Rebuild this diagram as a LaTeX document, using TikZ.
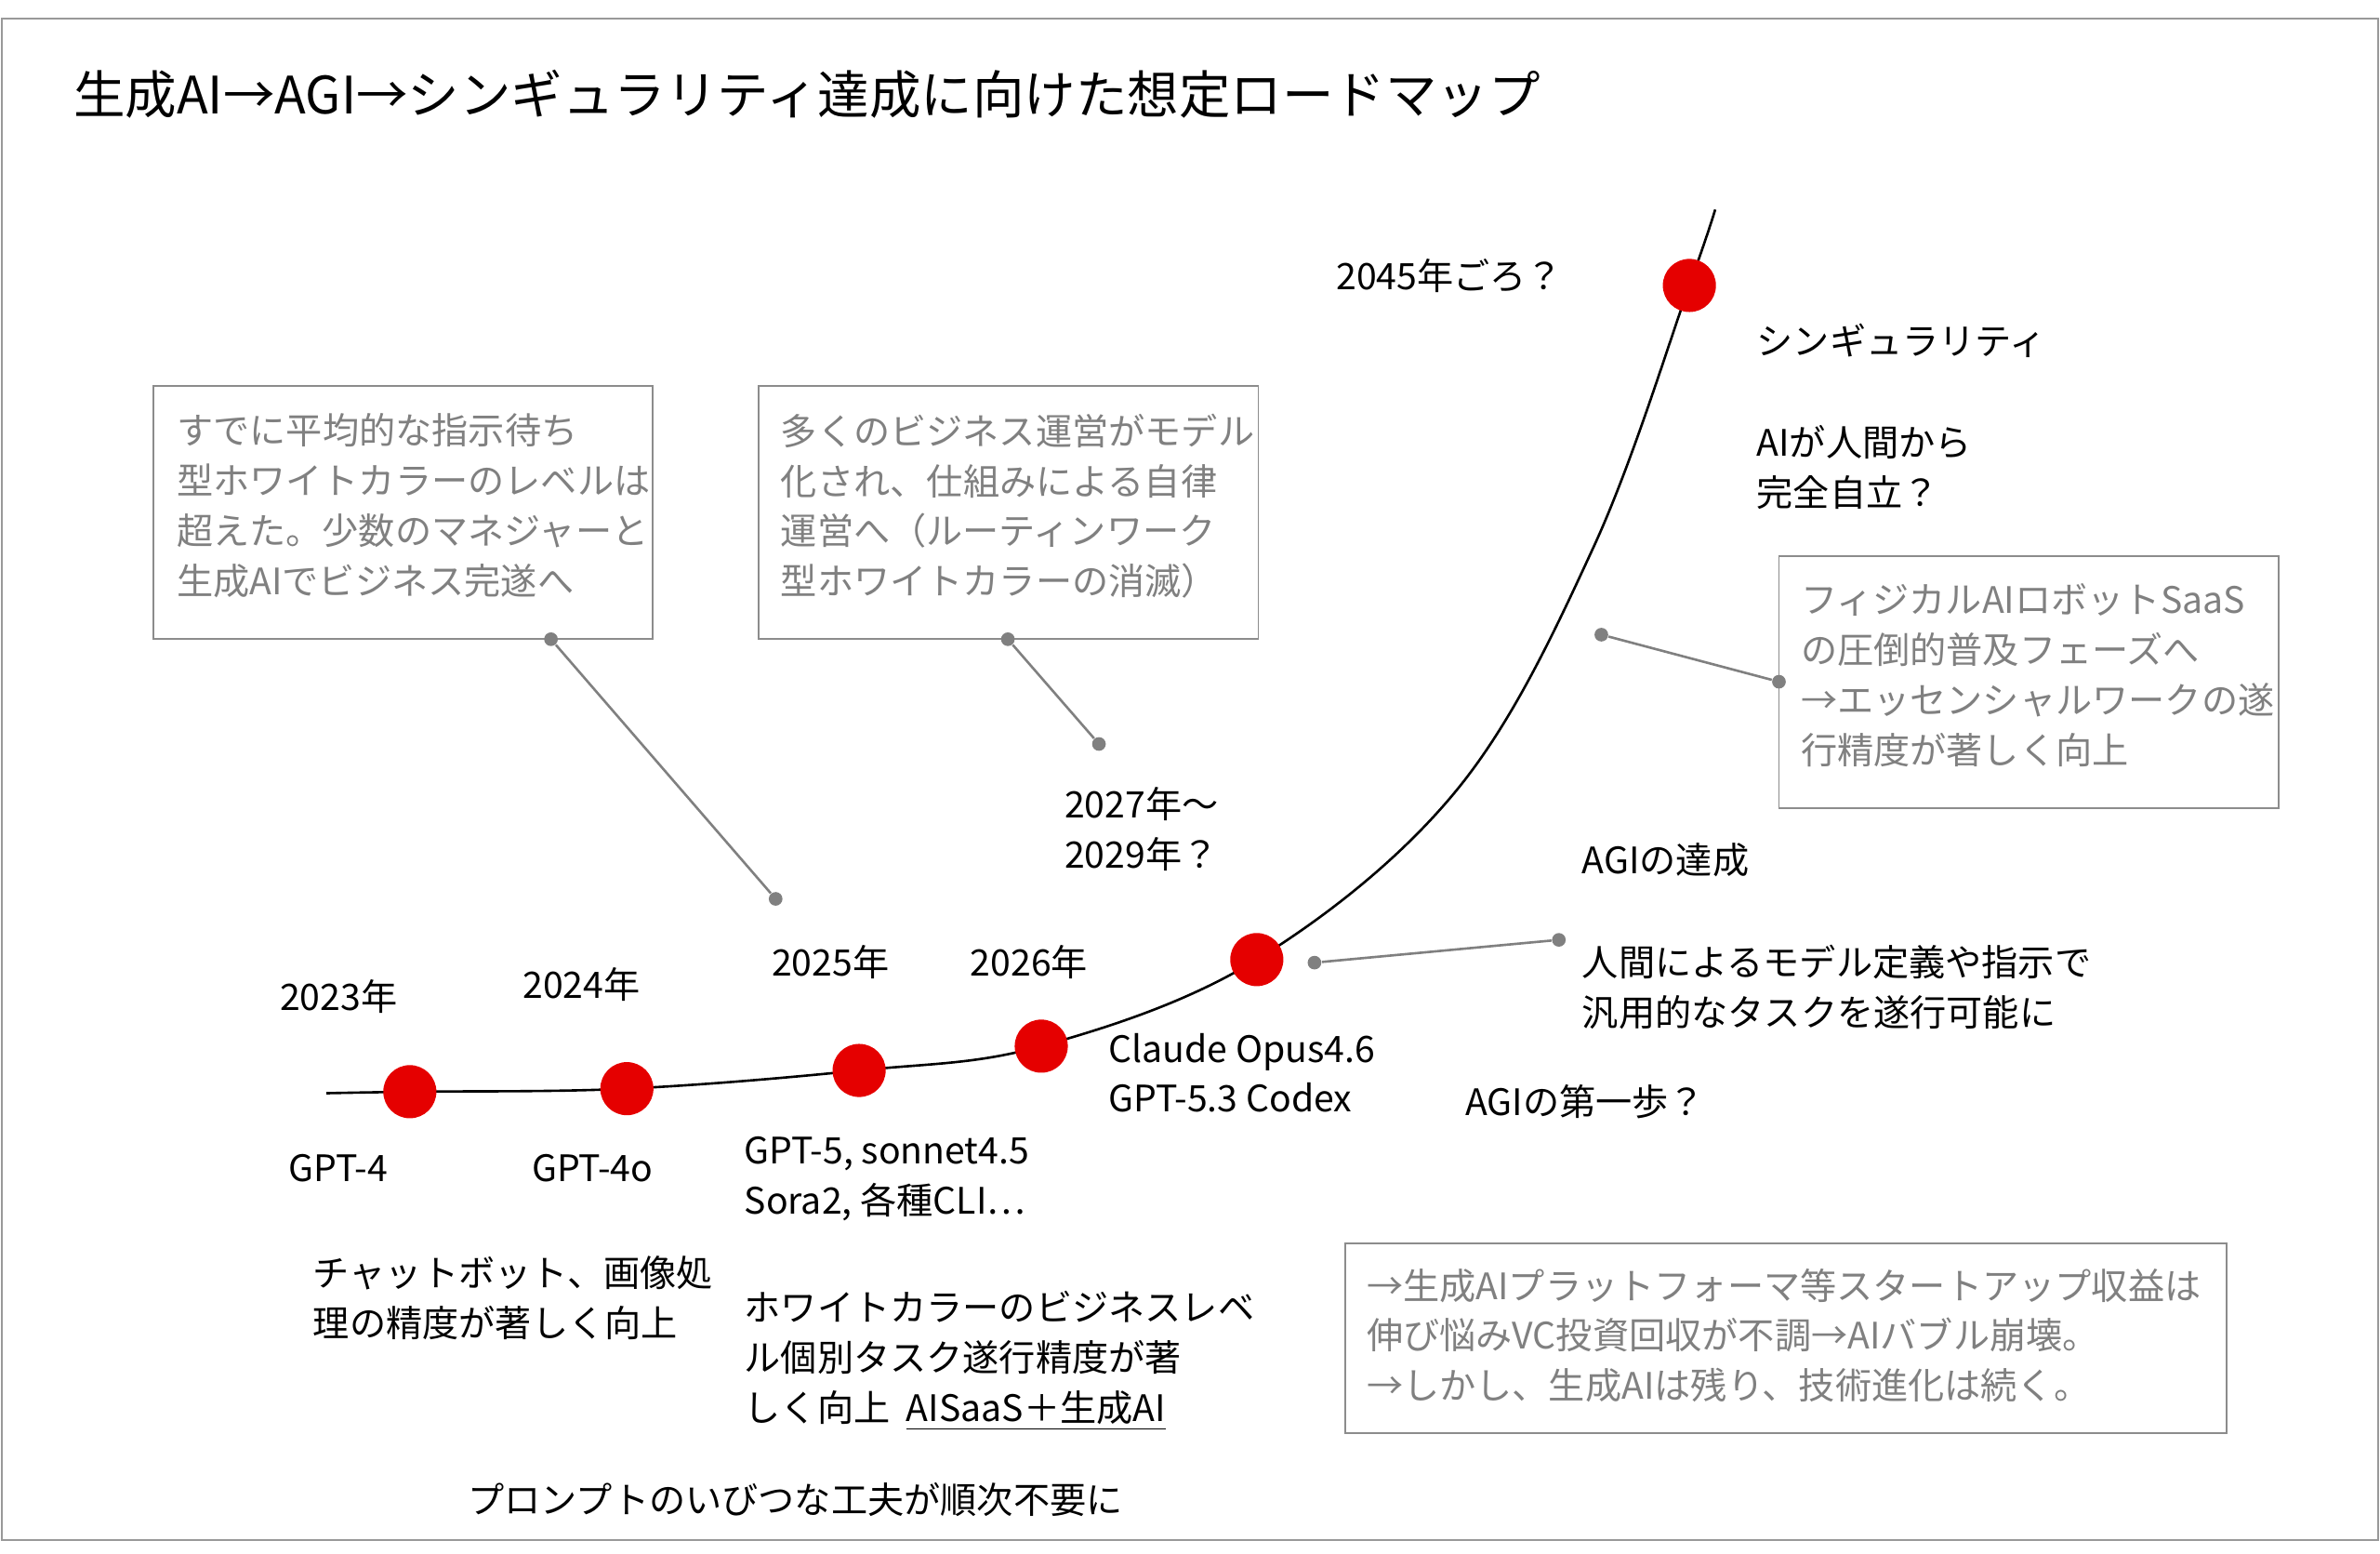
\documentclass[tikz,border=0pt]{standalone}
\usepackage{fontspec}
\setmainfont{Noto Sans CJK JP}
\begin{document}
\begin{tikzpicture}[x=0.5pt,y=-0.5pt,
  txt/.style={anchor=north west,inner sep=0pt,align=left,font=\fontsize{12}{16.5}\selectfont},
  gtxt/.style={txt,text=black!50},
  gbox/.style={draw=black!45,line width=0.6pt},
  dot/.style={circle,fill=red!90!black,minimum size=17.5pt,inner sep=0pt},
  gdot/.style={circle,fill=black!50,minimum size=4.5pt,inner sep=0pt},
  conn/.style={draw=black!50,line width=0.8pt}]
\useasboundingbox (0,0) rectangle (1568,1023);
\draw[black!40,line width=0.6pt] (1,12) rectangle (1567,1014);
\node[anchor=west,inner sep=0pt,font=\fontsize{17}{20}\selectfont] (title) at (48,62) {生成AI→AGI→シンギュラリティ達成に向けた想定ロードマップ};
% curve
\draw[line width=0.8pt] plot[smooth,tension=0.6] coordinates {(215,720) (270,719) (413,717) (566,705) (686,689) (828,632) (960,520) (1050,360) (1113,188) (1130,138)};
\node[dot] (d1) at (270,719) {};
\node[dot] (d2) at (413,717) {};
\node[dot] (d3) at (566,705) {};
\node[dot] (d4) at (686,689) {};
\node[dot] (d5) at (828,632) {};
\node[dot] (d6) at (1113,188) {};
% years
\node[txt] (y1) at (184,645) {2023年};
\node[txt] (y2) at (344,637) {2024年};
\node[txt] (y3) at (508,622) {2025年};
\node[txt] (y4) at (639,622) {2026年};
\node[txt] (y5) at (701,518) {2027年～\\2029年？};
\node[txt] (y6) at (880,170) {2045年ごろ？};
% model labels
\node[txt] (m1) at (190,760) {GPT-4};
\node[txt] (m2) at (350,760) {GPT-4o};
\node[txt] (m3) at (490,748) {GPT-5, sonnet4.5\\Sora2, 各種CLI…};
\node[txt] (m4) at (730,680) {Claude Opus4.6\\GPT-5.3 Codex};
\node[txt] (m5) at (965,714) {AGIの第一歩？};
\node[txt] (n1) at (206,827) {チャットボット、画像処\\理の精度が著しく向上};
\node[txt] (n2) at (490,850) {ホワイトカラーのビジネスレベ\\ル個別タスク遂行精度が著\\しく向上\ \ \underline{AISaaS＋生成AI}};
\node[txt] (n3) at (308,976) {プロンプトのいびつな工夫が順次不要に};
\node[txt] (s1) at (1157,213) {シンギュラリティ};
\node[txt] (s2) at (1157,280) {AIが人間から\\完全自立？};
\node[txt] (a1) at (1042,555) {AGIの達成};
\node[txt] (a2) at (1042,622) {人間によるモデル定義や指示で\\汎用的なタスクを遂行可能に};
% gray boxes
\draw[gbox] (101,254) rectangle (430,421);
\node[gtxt] (b1) at (116,272) {すでに平均的な指示待ち\\型ホワイトカラーのレベルは\\超えた。少数のマネジャーと\\生成AIでビジネス完遂へ};
\draw[gbox] (500,254) rectangle (829,421);
\node[gtxt] (b2) at (514,272) {多くのビジネス運営がモデル\\化され、仕組みによる自律\\運営へ（ルーティンワーク\\型ホワイトカラーの消滅）};
\draw[gbox] (1172,366) rectangle (1501,532);
\node[gtxt] (b3) at (1186,384) {フィジカルAIロボットSaaS\\の圧倒的普及フェーズへ\\→エッセンシャルワークの遂\\行精度が著しく向上};
\draw[gbox] (886,819) rectangle (1467,944);
\node[gtxt] (b4) at (900,835) {→生成AIプラットフォーマ等スタートアップ収益は\\伸び悩みVC投資回収が不調→AIバブル崩壊。\\→しかし、生成AIは残り、技術進化は続く。};
% connectors
\node[gdot] (c1a) at (363,421) {}; \node[gdot] (c1b) at (511,592) {};
\node[gdot] (c2a) at (664,421) {}; \node[gdot] (c2b) at (724,490) {};
\node[gdot] (c3a) at (1172,449) {}; \node[gdot] (c3b) at (1055,418) {};
\node[gdot] (c4a) at (866,634) {}; \node[gdot] (c4b) at (1027,619) {};
\draw[conn] (c1a) -- (c1b);
\draw[conn] (c2a) -- (c2b);
\draw[conn] (c3a) -- (c3b);
\draw[conn] (c4a) -- (c4b);
\end{tikzpicture}
\end{document}
